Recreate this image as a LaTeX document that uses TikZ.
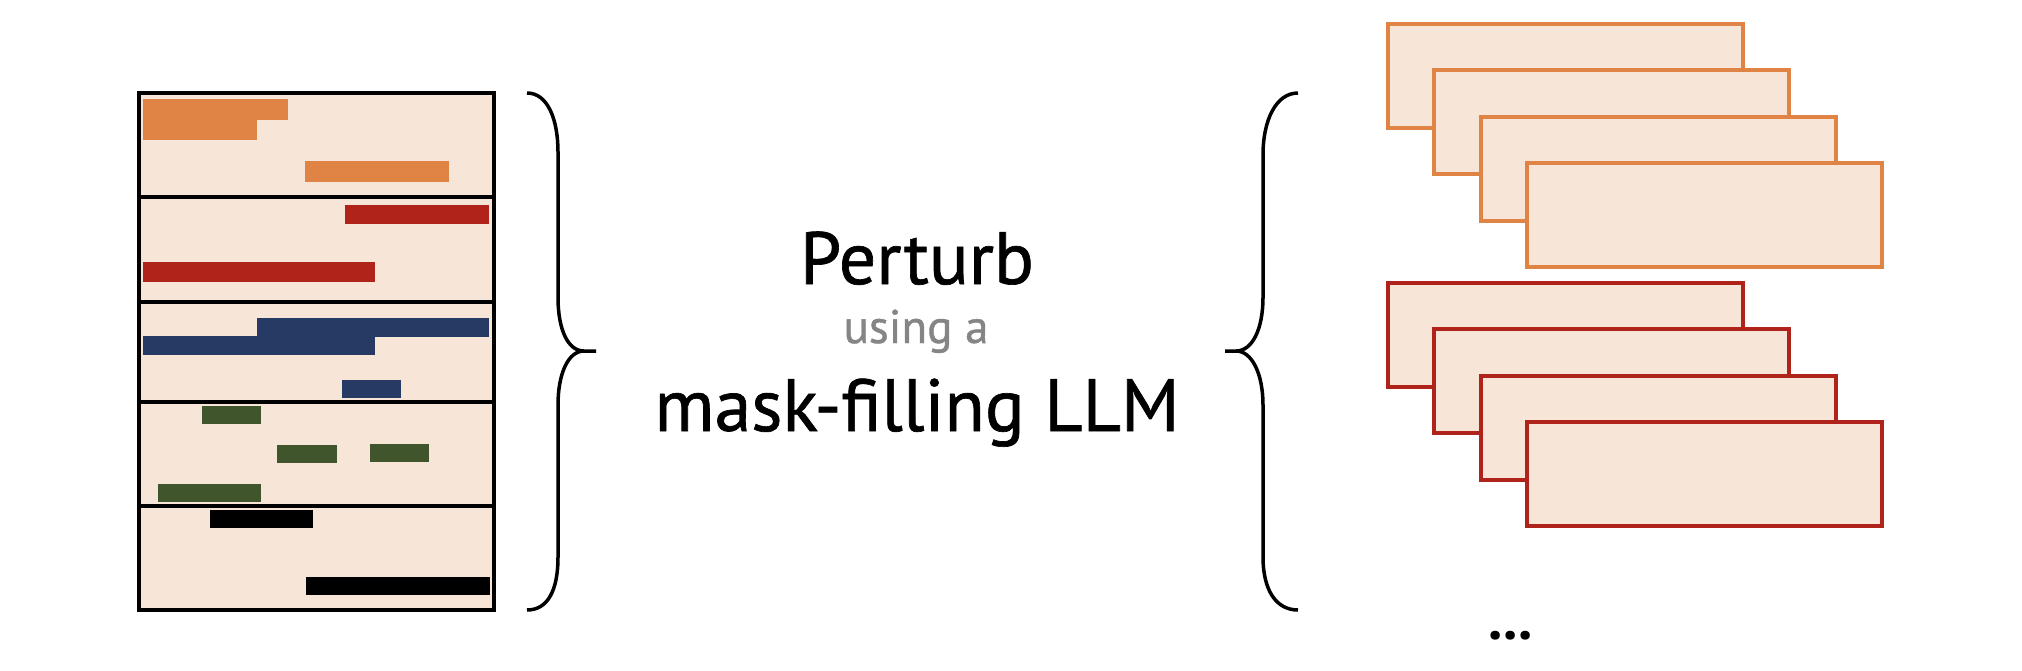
\documentclass[tikz,border=0pt]{standalone}
\usepackage{fontspec}
\newfontfamily\dinfont[FakeBold=0.9]{PT Sans}
\newfontfamily\dinbold{PT Sans Bold}
\definecolor{paper}{HTML}{F7E5D8}
\definecolor{corange}{HTML}{E08445}
\definecolor{cred}{HTML}{B0231B}
\definecolor{cblue}{HTML}{263A63}
\definecolor{cgreen}{HTML}{40552B}
\definecolor{cgraytext}{HTML}{858585}
\begin{document}
\begin{tikzpicture}[x=1pt,y=-1pt,
  frame/.style={draw=black,line width=4pt},
  bar/.style={fill=#1,draw=none},
  brace/.style={draw=black,line width=3.5pt},
  card/.style={fill=paper,draw=#1,line width=4pt},
  label/.style={inner sep=0pt,anchor=base}]
\useasboundingbox (0,0) rectangle (2022,670);
% left document
\fill[paper] (139,93) rectangle (494,610);
\fill[bar=corange] (143,99) rectangle (288,120);
\fill[bar=corange] (143,120) rectangle (257,140);
\fill[bar=corange] (305,161) rectangle (449,182);
\fill[bar=cred] (345,205) rectangle (489,224);
\fill[bar=cred] (143,262) rectangle (375,282);
\fill[bar=cblue] (257,318) rectangle (489,337);
\fill[bar=cblue] (143,336) rectangle (375,355);
\fill[bar=cblue] (342,380) rectangle (401,398);
\fill[bar=cgreen] (202,406) rectangle (261,424);
\fill[bar=cgreen] (277,445) rectangle (337,463);
\fill[bar=cgreen] (370,444) rectangle (429,462);
\fill[bar=cgreen] (158,484) rectangle (261,502);
\fill[bar=black] (210,510) rectangle (313,528);
\fill[bar=black] (306,577) rectangle (490,595);
\draw[frame] (139,93) rectangle (494,610);
\draw[frame] (139,197) -- (494,197);
\draw[frame] (139,302) -- (494,302);
\draw[frame] (139,402) -- (494,402);
\draw[frame] (139,506) -- (494,506);
% left brace
\draw[brace] (527,93) .. controls (548,93) and (558,120) .. (558,152) -- (558,297)
  .. controls (558,330) and (568,351) .. (584,351) -- (596,351);
\draw[brace] (584,351) .. controls (568,351) and (558,374) .. (558,405) -- (558,557)
  .. controls (558,590) and (548,610) .. (527,610);
% right brace
\draw[brace] (1298,93) .. controls (1276,93) and (1263,120) .. (1263,155) -- (1263,297)
  .. controls (1263,330) and (1252,351) .. (1236,351) -- (1225,351);
\draw[brace] (1236,351) .. controls (1252,351) and (1263,374) .. (1263,405) -- (1263,557)
  .. controls (1263,590) and (1276,610) .. (1298,610);
% text
\node[label] (perturb) at (917,284) {\resizebox{234pt}{!}{\dinfont Perturb}};
\node[label,text=cgraytext] (using) at (916,343) {\resizebox{145pt}{!}{\dinfont using a}};
\node[label] (mask) at (917,431) {\resizebox{525pt}{!}{\dinfont mask-filling LLM}};
% right cards
\foreach \i in {0,1,2,3} {
  \draw[card=corange] ({1388+46.3*\i},{24+46.3*\i}) rectangle ++(355,104);
}
\foreach \i in {0,1,2,3} {
  \draw[card=cred] ({1388+46.3*\i},{283+46.3*\i}) rectangle ++(355,104);
}
\node[label] (dots) at (1511,639) {\fontsize{58}{62}\selectfont\dinbold ...};
\end{tikzpicture}
\end{document}
